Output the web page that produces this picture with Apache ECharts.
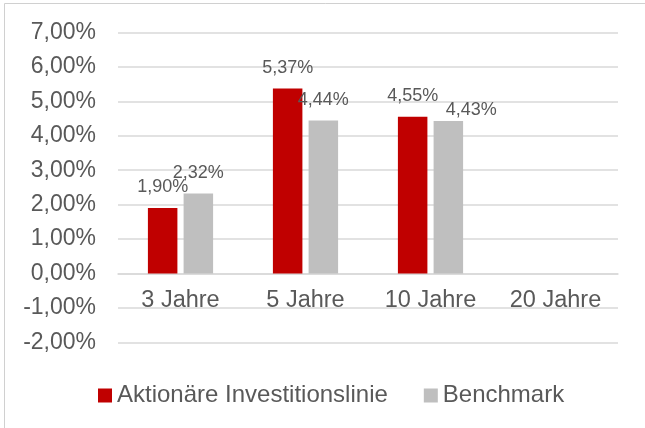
<!DOCTYPE html>
<html>
<head>
<meta charset="utf-8">
<script src="https://cdn.jsdelivr.net/npm/echarts@6/dist/echarts.min.js"></script>
<style>
html,body{margin:0;padding:0;background:#fff;}
#c{width:645px;height:428px;}
</style>
</head>
<body>
<div id="c"></div>
<script>
const categories = ['3 Jahre', '5 Jahre', '10 Jahre', '20 Jahre'];
const seriesNames = ['Aktionäre Investitionslinie', 'Benchmark'];
const fundValues = [1.90, 5.37, 4.55, null];
const benchmarkValues = [2.32, 4.44, 4.43, null];
const yMin = -2, yMax = 7, yInterval = 1;

const fmt = v => v.toFixed(2).replace('.', ',') + '%';
const font = 'Liberation Sans, Arial, sans-serif';
const textColor = '#595959';

const gridTop = 32.5, gridBottom = 85.7, H = 428;
const plotH = H - gridTop - gridBottom;
const zeroOffset = plotH * (0 - yMin) / (yMax - yMin);

const benchData = benchmarkValues.map((v, i) => i === 2
  ? {value: v, label: {offset: [23, 10]}}
  : v);

const chart = echarts.init(document.getElementById('c'), null, {renderer: 'canvas'});
chart.setOption({
  animation: false,
  backgroundColor: '#fff',
  textStyle: {fontFamily: font},
  graphic: [{
    type: 'rect',
    shape: {x: 4.5, y: 3.5, width: 700, height: 500},
    style: {fill: 'none', stroke: '#d0d0d0', lineWidth: 1},
    silent: true,
    z: -1
  }],
  grid: {left: 118, right: 27, top: gridTop, bottom: gridBottom},
  legend: {
    data: seriesNames,
    left: 93,
    top: 378.5,
    itemWidth: 14,
    itemHeight: 14,
    itemGap: 36,
    icon: 'rect',
    textStyle: {fontSize: 24, color: textColor, fontFamily: font}
  },
  xAxis: {
    type: 'category',
    data: categories,
    position: 'bottom',
    offset: -zeroOffset,
    axisLine: {show: true, onZero: false, lineStyle: {color: '#d9d9d9', width: 1.5}},
    axisTick: {show: false},
    axisLabel: {fontSize: 23.5, color: textColor, margin: 15, fontFamily: font}
  },
  yAxis: {
    type: 'value',
    min: yMin,
    max: yMax,
    interval: yInterval,
    axisLine: {show: false},
    axisTick: {show: false},
    splitLine: {lineStyle: {color: '#d9d9d9', width: 1.5}},
    axisLabel: {fontSize: 23, color: textColor, margin: 22, formatter: fmt, fontFamily: font}
  },
  series: [
    {
      name: seriesNames[0],
      type: 'bar',
      data: fundValues,
      barWidth: 29.5,
      barGap: '21%',
      itemStyle: {color: '#C00000'},
      label: {show: true, position: 'top', distance: 12, fontSize: 18, color: textColor,
        formatter: p => fmt(p.value), fontFamily: font}
    },
    {
      name: seriesNames[1],
      type: 'bar',
      data: benchData,
      barWidth: 29.5,
      barGap: '21%',
      itemStyle: {color: '#BFBFBF'},
      label: {show: true, position: 'top', distance: 12, fontSize: 18, color: textColor,
        formatter: p => fmt(p.value), fontFamily: font}
    }
  ]
});
</script>
</body>
</html>
